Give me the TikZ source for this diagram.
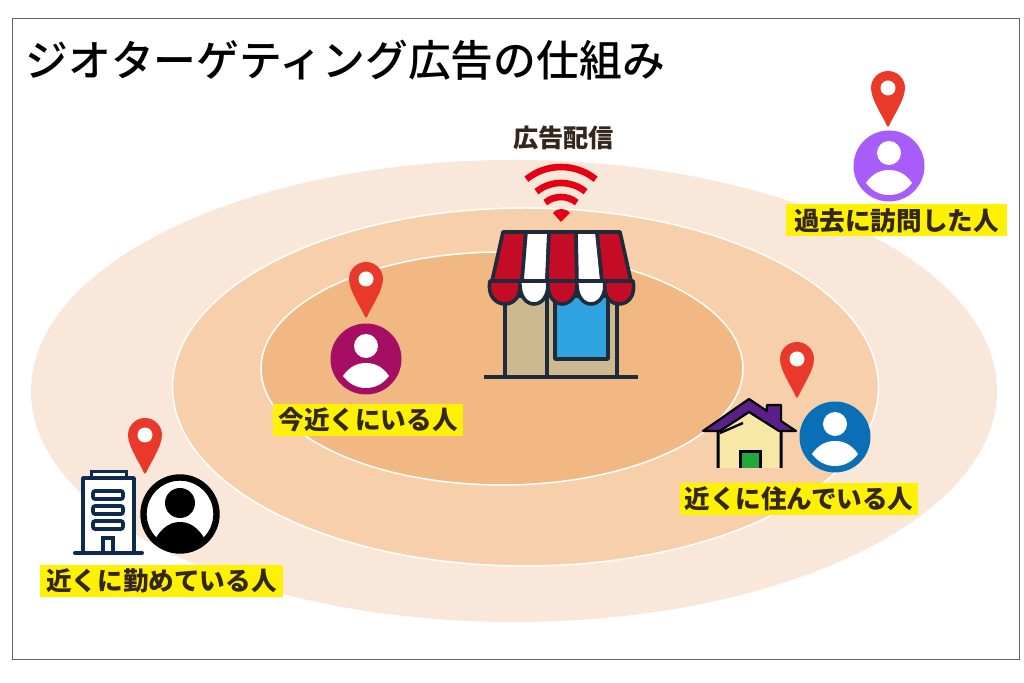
\documentclass[tikz,border=0pt]{standalone}
\usepackage{fontspec}
\usepackage{xcolor}
\setmainfont{Noto Sans CJK JP}
\newfontfamily\cjk{Noto Sans CJK JP}
\newfontfamily\cjkMid{Noto Sans CJK JP Medium}
\definecolor{ringOuter}{HTML}{F9E8D9}
\definecolor{ringMiddle}{HTML}{F8CFAB}
\definecolor{ringInner}{HTML}{F2B884}
\definecolor{pinRed}{HTML}{E8392A}
\definecolor{labelYellow}{HTML}{FFF200}
\definecolor{inkBrown}{HTML}{33261C}
\definecolor{shopInk}{HTML}{1F2A3A}
\definecolor{shopRed}{HTML}{C40C26}
\definecolor{shopWall}{HTML}{CDB990}
\definecolor{shopGlass}{HTML}{2EA3E0}
\definecolor{wifiRed}{HTML}{E60012}
\definecolor{towerInk}{HTML}{0F2A50}
\definecolor{nowColor}{HTML}{A50E62}
\definecolor{pastColor}{HTML}{A85CF9}
\definecolor{homeColor}{HTML}{0B6FB8}
\definecolor{roofColor}{HTML}{5B1F8A}
\definecolor{wallColor}{HTML}{F8E8A8}
\definecolor{doorColor}{HTML}{22A838}
\tikzstyle{myLabel}=[fill=labelYellow, text=inkBrown, font=\cjk\bfseries\fontsize{12.8}{14}\selectfont, minimum height=16pt, inner sep=0pt]
\tikzstyle{myRing}=[draw=white, line width=0.75pt]
\tikzstyle{myWifi}=[draw=wifiRed, line width=3.3pt]
\tikzstyle{myShop}=[draw=shopInk, line width=1.8pt, line join=round]
\newcommand{\pinMark}[2]{%
  \fill[pinRed, shift={(#1,#2)}] (-17,0) .. controls (-17,-9.4) and (-9.4,-17) .. (0,-17)
    .. controls (9.4,-17) and (17,-9.4) .. (17,0) .. controls (17,12) and (4,30) .. (1.5,37)
    .. controls (1,39.5) and (-1,39.5) .. (-1.5,37) .. controls (-4,30) and (-17,12) .. (-17,0) -- cycle;
  \fill[white] (#1,#2) circle (7.5);}
\newcommand{\personMark}[3]{%
  \begin{scope}[shift={(#1,#2)}]
    \fill[#3] (0,0) circle (35.5);
    \fill[white] (0,-13) circle (12);
    \fill[white] (-23,17) .. controls (-17,8) and (-9,4) .. (0,4) .. controls (9,4) and (17,8) .. (23,17)
      .. controls (17,25) and (9,29) .. (0,29) .. controls (-9,29) and (-17,25) .. (-23,17) -- cycle;
  \end{scope}}
\begin{document}
\begin{tikzpicture}[x=0.5pt, y=-0.5pt]
   \useasboundingbox (0,0) rectangle (1024,683);
   \draw[draw=black!60, fill=white, line width=0.5pt] (12,19) rectangle (1019,660);

   % Rings
   \fill[ringOuter] (514,391) ellipse [x radius=483, y radius=231];
   \filldraw[myRing, fill=ringMiddle] (525.5,387) ellipse [x radius=353, y radius=179];
   \filldraw[myRing, fill=ringInner] (502,368.5) ellipse [x radius=241, y radius=116.5];

   \node[anchor=west, font=\cjkMid\fontsize{21.4}{25}\selectfont, inner sep=0pt] (title) at (25,60) {ジオターゲティング広告の仕組み};
   \node[font=\cjk\bfseries\fontsize{12.6}{14}\selectfont, text=inkBrown, inner sep=0pt] (delivery) at (563.5,138) {広告配信};

   % Wifi
   \draw[myWifi] (561,222) ++(-129:25) arc[start angle=-129, end angle=-51, radius=25];
   \draw[myWifi] (561,222) ++(-129:39) arc[start angle=-129, end angle=-51, radius=39];
   \draw[myWifi] (561,222) ++(-129:55) arc[start angle=-129, end angle=-51, radius=55];
   \fill[wifiRed] (561,222) -- (553,213) .. controls (558,207.5) and (565,207.5) .. (570,213) -- cycle;

   % Shop
   \draw[myShop, fill=shopWall] (505,296) rectangle (617,377);
   \draw[myShop] (547,296) -- (547,377);
   \draw[myShop, fill=shopGlass] (555,296) rectangle (608,359);
   \draw[shopInk, line width=2pt] (484,377) -- (638,377);
   \draw[myShop, fill=shopRed] (503,232) -- (526,232) -- (522,281) -- (492,281) -- cycle;
   \draw[myShop, fill=white] (526,232) -- (549,232) -- (547,281) -- (522,281) -- cycle;
   \draw[myShop, fill=shopRed] (549,232) -- (576,232) -- (577,281) -- (547,281) -- cycle;
   \draw[myShop, fill=white] (576,232) -- (597,232) -- (602,281) -- (577,281) -- cycle;
   \draw[myShop, fill=shopRed] (597,232) -- (620,232) -- (631,281) -- (602,281) -- cycle;
   \draw[myShop, fill=shopRed] (490,281) .. controls (487,296) and (496,304) .. (505,304) .. controls (514,304) and (522,296) .. (520,281) -- cycle;
   \draw[myShop, fill=white] (520,281) .. controls (519,296) and (526,304) .. (534,304) .. controls (542,304) and (549,296) .. (548,281) -- cycle;
   \draw[myShop, fill=shopRed] (548,281) .. controls (547,296) and (554,304) .. (562,304) .. controls (570,304) and (578,296) .. (577,281) -- cycle;
   \draw[myShop, fill=white] (577,281) .. controls (576,296) and (583,304) .. (591,304) .. controls (599,304) and (606,296) .. (605,281) -- cycle;
   \draw[myShop, fill=shopRed] (605,281) .. controls (603,296) and (610,304) .. (619,304) .. controls (628,304) and (636,296) .. (633,281) -- cycle;

   % Near now
   \pinMark{366}{279}
   \personMark{366}{359}{nowColor}
   \node[myLabel, minimum width=95pt] (nowLabel) at (368,420) {今近くにいる人};

   % Past visit
   \pinMark{888}{88}
   \personMark{889}{166}{pastColor}
   \node[myLabel, minimum width=110.5pt] (pastLabel) at (896.5,220.5) {過去に訪問した人};

   % Home
   \pinMark{797}{359}
   \personMark{835}{437}{homeColor}
   \draw[black, line width=1.5pt, fill=wallColor] (718,468) -- (718,425) -- (749,410) -- (781,425) -- (781,468);
   \draw[black, line width=1.2pt] (720,433) -- (743,423);
   \draw[black, line width=1.5pt, fill=doorColor] (740,468) -- (740,452) -- (760,452) -- (760,468);
   \filldraw[draw=black, fill=roofColor, line width=1.1pt, line join=round] (703,431) -- (749,399) -- (767,411) -- (767,405) -- (781,405) -- (781,421) -- (796,431) -- (779,431) -- (749,412) -- (720,431) -- cycle;
   \node[myLabel, minimum width=119pt] (homeLabel) at (799,499) {近くに住んでいる人};

   % Work
   \pinMark{145}{435}
   \draw[towerInk, line width=1.5pt, fill=white] (91,478) -- (91,472) -- (126,472) -- (126,478);
   \draw[towerInk, line width=1.8pt, fill=white, line join=round] (83,553) -- (83,478) -- (134,478) -- (134,553);
   \foreach \yTop in {491,506,521} {
      \draw[towerInk, line width=1.8pt, rounded corners=1pt] (93,\yTop) rectangle (123,\yTop+8);
   }
   \draw[towerInk, line width=1.8pt] (103,553) -- (103,538) -- (113,538) -- (113,553);
   \draw[towerInk, line width=2pt, line cap=round] (75,553) -- (142,553);
   \fill[white] (180,514) circle (37);
   \begin{scope}
      \clip (180,514) circle (37);
      \fill[black] (150,550) .. controls (158,530) and (168,522) .. (180,522) .. controls (192,522) and (202,530) .. (210,550) -- (210,560) -- (150,560) -- cycle;
   \end{scope}
   \fill[black] (180,503) circle (15);
   \draw[black, line width=3.2pt] (180,514) circle (36.5);
   \node[myLabel, minimum width=121.5pt] (workLabel) at (161.5,581) {近くに勤めている人};
\end{tikzpicture}
\end{document}
